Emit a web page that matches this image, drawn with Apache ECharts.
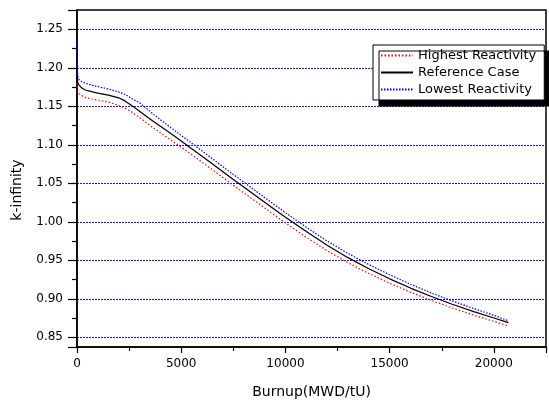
<!DOCTYPE html>
<html>
<head>
<meta charset="utf-8">
<script src="https://cdn.jsdelivr.net/npm/echarts@6/dist/echarts.min.js"></script>
<style>html,body{margin:0;padding:0;background:#fff;}#c{width:549px;height:410px;}</style>
</head>
<body>
<div id="c"></div>
<script>
var burnup = [0, 15, 40, 100, 200, 400, 700, 1000, 1500, 2000, 2300, 2600, 3000, 3500, 4000, 4500, 5000, 5500, 6000, 6500, 7000, 7500, 8000, 9000, 10000, 11000, 12000, 13000, 14000, 15000, 16000, 17000, 18000, 19000, 20000, 20700];
var highestK = [1.180, 1.174, 1.1695, 1.1665, 1.164, 1.1615, 1.1595, 1.158, 1.1555, 1.151, 1.1475, 1.143, 1.1355, 1.1250, 1.1155, 1.1063, 1.0970, 1.0873, 1.0775, 1.0675, 1.0575, 1.0475, 1.0377, 1.0180, 0.9985, 0.9800, 0.9625, 0.9470, 0.9328, 0.9203, 0.9087, 0.8980, 0.8882, 0.8792, 0.8707, 0.8648];
var referenceK = [1.192, 1.186, 1.181, 1.1775, 1.1745, 1.1712, 1.169, 1.167, 1.1645, 1.161, 1.157, 1.1515, 1.1435, 1.1335, 1.1240, 1.1148, 1.1050, 1.0950, 1.0850, 1.0750, 1.0650, 1.0550, 1.0452, 1.0255, 1.0060, 0.9875, 0.9695, 0.9535, 0.9390, 0.9260, 0.9140, 0.9030, 0.8930, 0.8837, 0.8752, 0.8692];
var lowestK = [1.236, 1.200, 1.189, 1.185, 1.1825, 1.180, 1.1775, 1.1755, 1.1725, 1.1685, 1.1655, 1.1605, 1.1545, 1.1435, 1.1325, 1.1222, 1.1122, 1.1022, 1.0920, 1.0818, 1.0716, 1.0615, 1.0515, 1.0317, 1.0118, 0.9930, 0.9750, 0.9590, 0.9445, 0.9313, 0.9190, 0.9076, 0.8973, 0.8877, 0.8787, 0.8715];
var seriesNames = ['Highest Reactivity', 'Reference Case', 'Lowest Reactivity'];
var xTitle = 'Burnup(MWD/tU)';
var yTitle = 'k-infinity';

function pairs(xs, ys) { return xs.map(function (x, i) { return [x, ys[i]]; }); }
var FONT = 'DejaVu Sans';
var chart = echarts.init(document.getElementById('c'), null, { renderer: 'canvas' });
chart.setOption({
  animation: false,
  backgroundColor: '#fff',
  grid: { left: 77, right: -1, top: 10, bottom: 63, show: true, borderColor: '#000', borderWidth: 1.5, containLabel: false },
  xAxis: {
    type: 'value', min: 0, max: 22500, interval: 5000,
    name: xTitle, nameLocation: 'middle', nameGap: 38,
    nameTextStyle: { fontFamily: FONT, fontSize: 14, color: '#000' },
    axisLine: { show: true, lineStyle: { color: '#000', width: 1.5 } },
    axisTick: { show: true, length: 6, lineStyle: { color: '#000', width: 1.2 } },
    minorTick: { show: true, splitNumber: 2, length: 4, lineStyle: { color: '#000', width: 1.2 } },
    axisLabel: { fontFamily: FONT, fontSize: 12, color: '#000', margin: 11,
      formatter: function (v) { return (v % 5000 === 0) ? String(v) : ''; } },
    splitLine: { show: false }
  },
  yAxis: {
    type: 'value', min: 0.8375, max: 1.275, splitNumber: 9,
    axisLine: { show: true, lineStyle: { color: '#000', width: 1.5 } },
    axisTick: { show: true, length: 9, lineStyle: { color: '#000', width: 1.2 } },
    minorTick: { show: true, splitNumber: 2, length: 5, lineStyle: { color: '#000', width: 1.2 } },
    axisLabel: { fontFamily: FONT, fontSize: 12, color: '#000', margin: 14,
      formatter: function (v) { var r = Math.round(v / 0.05) * 0.05; return Math.abs(r - v) < 1e-6 ? v.toFixed(2) : ''; } },
    splitLine: { show: true, showMinLine: false, showMaxLine: false, lineStyle: { color: '#1a1aff', width: 1, type: [2, 1], opacity: 1 } }
  },
  legend: {
    orient: 'vertical', left: 373, top: 45,
    data: seriesNames,
    itemWidth: 32, itemHeight: 12, itemGap: 4,
    padding: [4, 8, 4, 7],
    backgroundColor: '#fff', borderColor: '#000', borderWidth: 1,
    shadowColor: '#000', shadowBlur: 0, shadowOffsetX: 6, shadowOffsetY: 6,
    itemStyle: { opacity: 0 },
    textStyle: { fontFamily: FONT, fontSize: 13, color: '#000' }
  },
  graphic: [{
    type: 'text', x: 17, y: 190, rotation: Math.PI / 2,
    style: { text: yTitle, fontFamily: FONT, fontSize: 14, fill: '#000', textAlign: 'center', textVerticalAlign: 'middle' }
  }],
  series: [
    { name: seriesNames[0], type: 'line', data: pairs(burnup, highestK), symbol: 'none', showSymbol: false,
      lineStyle: { color: '#ff0000', width: 1.2, type: [1.5, 2] }, itemStyle: { color: '#ff0000' } },
    { name: seriesNames[1], type: 'line', data: pairs(burnup, referenceK), symbol: 'none', showSymbol: false,
      lineStyle: { color: '#000000', width: 1.2, type: 'solid' }, itemStyle: { color: '#000000' } },
    { name: seriesNames[2], type: 'line', data: pairs(burnup, lowestK), symbol: 'none', showSymbol: false,
      lineStyle: { color: '#0000ff', width: 1.2, type: [1.5, 1.5] }, itemStyle: { color: '#0000ff' } }
  ]
});
</script>
</body>
</html>
